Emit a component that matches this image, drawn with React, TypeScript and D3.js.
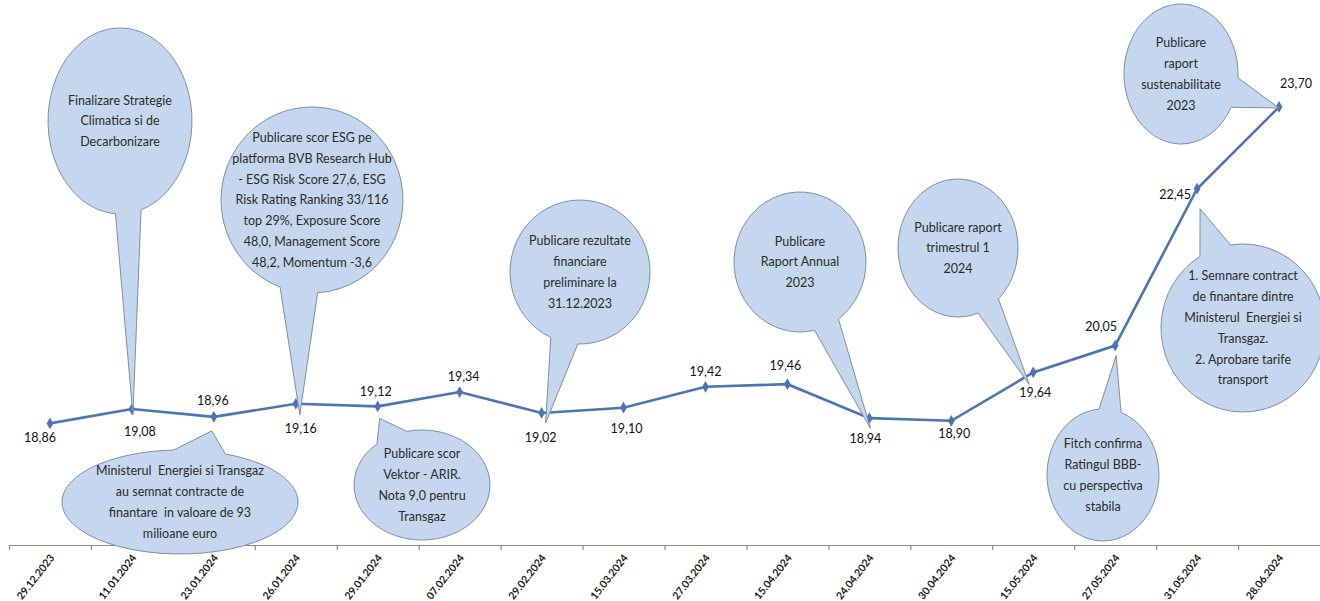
import React from 'react';
import * as d3 from 'd3';

// ---------- DATA ----------
const dates: string[] = [
  '29.12.2023', '11.01.2024', '23.01.2024', '26.01.2024', '29.01.2024', '07.02.2024',
  '29.02.2024', '15.03.2024', '27.03.2024', '15.04.2024', '24.04.2024', '30.04.2024',
  '15.05.2024', '27.05.2024', '31.05.2024', '28.06.2024',
];
const prices: number[] = [
  18.86, 19.08, 18.96, 19.16, 19.12, 19.34, 19.02, 19.1, 19.42, 19.46, 18.94, 18.9,
  19.64, 20.05, 22.45, 23.7,
];
const eventLines: string[][] = [
  ['Finalizare Strategie', 'Climatica si de', 'Decarbonizare'],
  ['Publicare scor ESG pe', 'platforma BVB Research Hub', '- ESG Risk Score 27,6, ESG', 'Risk Rating Ranking 33/116', 'top 29%, Exposure Score', '48,0, Management Score', '48,2, Momentum -3,6'],
  ['Ministerul  Energiei si Transgaz', 'au semnat contracte de', 'finantare  in valoare de 93', 'milioane euro'],
  ['Publicare scor', 'Vektor - ARIR.', 'Nota 9,0 pentru', 'Transgaz'],
  ['Publicare rezultate', 'financiare', 'preliminare la', '31.12.2023'],
  ['Publicare', 'Raport Annual', '2023'],
  ['Publicare raport', 'trimestrul 1', '2024'],
  ['Fitch confirma', 'Ratingul BBB-', 'cu perspectiva', 'stabila'],
  ['1. Semnare contract', 'de finantare dintre', 'Ministerul  Energiei si', 'Transgaz.', '2. Aprobare tarife', 'transport'],
  ['Publicare', 'raport', 'sustenabilitate', '2023'],
];
const eventPoint: number[] = [1, 3, 2, 4, 6, 10, 12, 13, 14, 15];

// ---------- LAYOUT ----------
const W = 1320;
const H = 601;
const labelOffsets: [number, number][] = [
  [-10, 14], [8, 23], [-1, -16], [5, 25], [-2, -15], [4, -15], [-1, 25], [3, 21],
  [0, -15], [-2, -19], [-4, 20], [3, 13], [2, 20], [-14, -19], [-22, 6], [17, -23],
];
// cx, cy, rx, ry, tipDx, tipDy, d1, d2
const calloutGeom: number[][] = [
  [120, 121, 72, 93, 1, 6, 0.24, 0.12],
  [312, 200, 91, 93, 4, 11, 0.12, 0.3],
  [180, 502, 118, 52, -2, 14, 0.25, 0.2],
  [422, 485, 68, 55, 2, 12, 0.25, 0.25],
  [580, 272, 70, 72, 4, 10, 0.2, 0.2],
  [800, 262, 66, 70, 1, 10, 0.2, 0.2],
  [958, 248, 60, 69, -4, 12, 0.2, 0.2],
  [1103, 475, 56, 66, 1, 10, 0.2, 0.2],
  [1243, 328, 82, 84, 3, 20, 0.2, 0.2],
  [1181, 74, 57, 70, 0, 1, 0.22, 0.22],
];

const LINE_COLOR = '#4a76b3';
const FILL = '#c5d7ee';
const STROKE = '#7d8ea8';
const FONT = "Lato, 'Open Sans', sans-serif";

function fmt(v: number): string {
  return d3.format('.2f')(v).replace('.', ',');
}

export default function App() {
  const x = d3.scaleBand<string>().domain(dates).range([9, W]).paddingInner(0).paddingOuter(0);
  const y = d3.scaleLinear().domain([17, 25]).range([545, 22]);
  const px = (i: number) => (x(dates[i]) as number) + x.bandwidth() / 2;
  const py = (i: number) => y(prices[i]);

  const line = d3
    .line<number>()
    .x((_, i) => px(i))
    .y((d) => y(d));

  const diamond = d3.symbol().type(d3.symbolDiamond).size(40)() as string;

  const calloutPath = (g: number[], tx: number, ty: number) => {
    const [cx, cy, rx, ry, , , d1, d2] = g;
    const t0 = Math.atan2((ty - cy) / ry, (tx - cx) / rx);
    const P = (t: number) => [cx + rx * Math.cos(t), cy + ry * Math.sin(t)];
    const b1 = P(t0 - d1);
    const b2 = P(t0 + d2);
    return `M${b1[0]},${b1[1]}L${tx},${ty}L${b2[0]},${b2[1]}A${rx},${ry} 0 1 1 ${b1[0]},${b1[1]}Z`;
  };

  return (
    <div style={{ position: 'absolute', left: 0, top: 0 }}>
      <svg width={W} height={H} style={{ display: 'block', background: '#fff' }}>
        {/* axis */}
        <line x1={9} x2={W} y1={545.5} y2={545.5} stroke="#8c8c8c" strokeWidth={1.2} />
        {dates.map((d, i) => (
          <line
            key={'t' + i}
            x1={(x(d) as number) + 0.5}
            x2={(x(d) as number) + 0.5}
            y1={545}
            y2={550}
            stroke="#8c8c8c"
            strokeWidth={1.2}
          />
        ))}
        {dates.map((d, i) => (
          <text
            key={'xl' + i}
            transform={`translate(${px(i) + 5},${558}) rotate(-52)`}
            textAnchor="end"
            fontFamily={FONT}
            fontSize={10.5}
            fontWeight="bold"
            fill="#1a1a1a"
          >
            {d}
          </text>
        ))}

        {/* line */}
        <path d={line(prices) as string} fill="none" stroke={LINE_COLOR} strokeWidth={2.6} />
        {prices.map((v, i) => (
          <path key={'m' + i} d={diamond} transform={`translate(${px(i)},${py(i)})`} fill={LINE_COLOR} />
        ))}

        {/* callouts */}
        {eventLines.map((lines, k) => {
          const g = calloutGeom[k];
          const idx = eventPoint[k];
          const tx = px(idx) + g[4];
          const ty = py(idx) + g[5];
          const lh = 20.8;
          const y0 = g[1] - ((lines.length - 1) * lh) / 2;
          return (
            <g key={'c' + k}>
              <path d={calloutPath(g, tx, ty)} fill={FILL} stroke={STROKE} strokeWidth={1} />
              {lines.map((l, j) => (
                <text
                  key={j}
                  x={g[0]}
                  y={y0 + j * lh}
                  dy="0.35em"
                  textAnchor="middle"
                  fontFamily={FONT}
                  fontSize={12.5}
                  fill="#2b2b2b"
                  style={{ whiteSpace: 'pre' }}
                >
                  {l}
                </text>
              ))}
            </g>
          );
        })}

        {/* data labels */}
        {prices.map((v, i) => (
          <text
            key={'dl' + i}
            x={px(i) + labelOffsets[i][0]}
            y={py(i) + labelOffsets[i][1]}
            dy="0.35em"
            textAnchor="middle"
            fontFamily={FONT}
            fontSize={12.5}
            fill="#111"
          >
            {fmt(v)}
          </text>
        ))}
      </svg>
    </div>
  );
}
